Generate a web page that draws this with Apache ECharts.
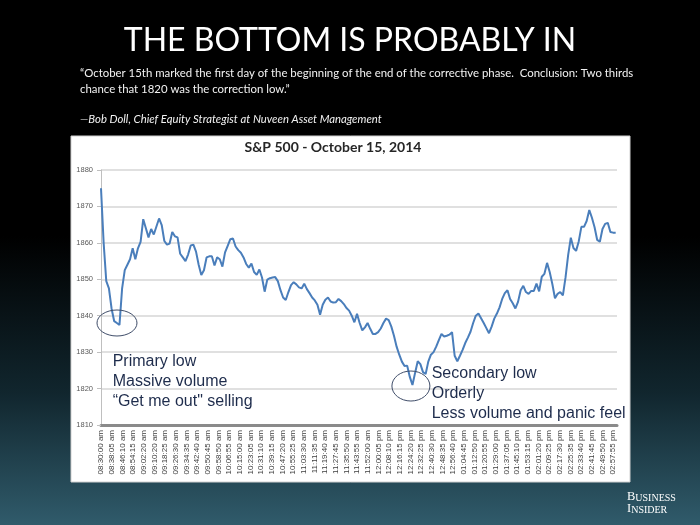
<!DOCTYPE html>
<html><head><meta charset="utf-8">
<script src="https://cdn.jsdelivr.net/npm/echarts@6/dist/echarts.min.js"></script>
<style>html,body{margin:0;padding:0;background:#000}#c{width:700px;height:525px}</style>
</head><body><div id="c"></div>
<script>
// ---- data (seconds after 08:30:00 am, S&P 500 level) ----
const stepSeconds = 120;          // one reading every 2 minutes
const tickIntervalSeconds = 485;  // axis label spacing
const tickLabels = [
  '08:30:00 am','08:38:05 am','08:46:10 am','08:54:15 am','09:02:20 am','09:10:20 am','09:18:25 am',
  '09:26:30 am','09:34:35 am','09:42:40 am','09:50:45 am','09:58:50 am','10:06:55 am','10:15:00 am',
  '10:23:05 am','10:31:10 am','10:39:15 am','10:47:20 am','10:55:25 am','11:03:30 am','11:11:35 am',
  '11:19:40 am','11:27:45 am','11:35:50 am','11:43:55 am','11:52:00 am','12:00:05 pm','12:08:10 pm',
  '12:16:15 pm','12:24:20 pm','12:32:25 pm','12:40:30 pm','12:48:35 pm','12:56:40 pm','01:04:45 pm',
  '01:12:50 pm','01:20:55 pm','01:29:00 pm','01:37:05 pm','01:45:10 pm','01:53:15 pm','02:01:20 pm',
  '02:09:25 pm','02:17:30 pm','02:25:35 pm','02:33:40 pm','02:41:45 pm','02:49:50 pm','02:57:55 pm'
];
const spx = [
  1875,1860,1849.5,1847.5,1842,1838.5,1838,1837.5,1847.5,1852.5,
  1854,1855.5,1858.5,1855.5,1858.5,1860.3,1866.5,1864,1861.5,1863.8,
  1862.3,1864.5,1866.7,1864.9,1860.5,1859.5,1859.8,1863,1861.8,1861.5,
  1857,1856,1855,1856.8,1859.3,1859.5,1857.6,1854,1851.2,1852.5,
  1856,1856.3,1856.3,1853.8,1856,1855.5,1853.5,1857.4,1859.2,1861,
  1861.2,1859,1858,1857.3,1856,1854.2,1853.2,1854.3,1852,1851.2,
  1852.7,1850.5,1846.6,1849.9,1850.3,1850.5,1850.6,1849.5,1847,1845,
  1844.3,1846.5,1848.4,1849.2,1848.6,1847.8,1847.5,1848.8,1847.3,1846.2,
  1845,1844.2,1843,1840.3,1843,1844.4,1845,1843.9,1843.6,1843.7,
  1844.6,1844,1843.2,1842.1,1841.4,1840,1838.2,1840.5,1838,1836,
  1836.8,1838,1836.4,1835,1835,1835.5,1836.5,1838,1839.2,1838.8,
  1837,1834.5,1831.5,1829.3,1827.4,1826.2,1826.3,1823.2,1821,1824.3,
  1827.5,1826.7,1824.5,1824,1827.4,1829.3,1830,1831.5,1833.3,1835,
  1834.3,1834.5,1834.8,1835.5,1829,1827.5,1829,1830.6,1832.5,1834,
  1835.6,1838,1840,1840.6,1839.3,1838,1836.6,1835.2,1837,1839.2,
  1840.6,1842.3,1844.6,1846.2,1847,1844.6,1843.4,1842,1843.8,1847,
  1848.2,1846.5,1846,1846.8,1846.8,1848.8,1846.7,1850.7,1851.5,1854.5,
  1852,1848.7,1844.8,1846,1846.5,1845.6,1850.5,1856.7,1861.4,1858.6,
  1857.8,1860.4,1864.4,1864.4,1866,1869,1866.9,1864.3,1860.8,1860.3,
  1863.8,1865.2,1865.5,1863,1862.8,1862.8
];
const yMin = 1810, yMax = 1880, yStep = 10;
const xMax = 23460;

const pageTitle = 'THE BOTTOM IS PROBABLY IN';
const quoteLines = [
  '\u201COctober 15th marked the first day of the beginning of the end of the corrective phase.  Conclusion: Two thirds',
  'chance that 1820 was the correction low.\u201D'
];
const attribution = '\u2014Bob Doll, Chief Equity Strategist at Nuveen Asset Management';
const chartTitle = 'S&P 500 - October 15, 2014';
const primaryNote = ['Primary low', 'Massive volume', '\u201CGet me out" selling'];
const secondaryNote = ['Secondary low', 'Orderly', 'Less volume and panic feel'];
const logoLines = ['BUSINESS', 'INSIDER'];
// annotation anchors in data space [seconds, level]
const primaryLow = [727, 1838];
const secondaryLow = [14090, 1820.7];
const primaryNoteAt = [532, 1827.4];
const secondaryNoteAt = [15035, 1824];

const chart = echarts.init(document.getElementById('c'));
const seriesData = spx.map((v, i) => [i * stepSeconds, v]);

chart.setOption({
  animation: false,
  backgroundColor: {type: 'linear', x: 0, y: 0, x2: 0, y2: 1, colorStops: [
    {offset: 0, color: '#000000'}, {offset: 0.45, color: '#000000'},
    {offset: 0.75, color: '#11262e'}, {offset: 1, color: '#305b6b'}]},
  title: {text: pageTitle, left: 'center', top: 20,
    textStyle: {color: '#ffffff', fontSize: 32, fontWeight: 'normal', fontFamily: 'Lato'}},
  grid: {left: 101, right: 83, top: 170, bottom: 100},
  xAxis: {
    type: 'value', min: 0, max: xMax, interval: tickIntervalSeconds,
    axisLine: {show: true, lineStyle: {color: '#8a8a8a', width: 3}},
    axisTick: {show: false},
    splitLine: {show: false},
    axisLabel: {rotate: 90, fontSize: 8, color: '#404040', margin: 5, fontFamily: 'Liberation Sans',
      showMaxLabel: false,
      formatter: v => {
        const i = Math.round(v / tickIntervalSeconds);
        return (Math.abs(v - i * tickIntervalSeconds) < 1e-6 && tickLabels[i]) ? tickLabels[i] : '';
      }}
  },
  yAxis: {
    type: 'value', min: yMin, max: yMax, interval: yStep,
    axisLine: {show: true, lineStyle: {color: '#bfbfbf', width: 1}},
    axisTick: {show: true, length: 4, lineStyle: {color: '#bfbfbf'}},
    splitLine: {lineStyle: {color: '#d6d6d6', width: 1.5}},
    axisLabel: {fontSize: 7.5, color: '#595959', margin: 8, fontFamily: 'Liberation Sans',
      formatter: v => String(v)}
  },
  series: [{
    type: 'line', data: seriesData, showSymbol: false, symbol: 'none',
    lineStyle: {color: '#4a7ebb', width: 2}, z: 3
  }]
});

function px(p) { return chart.convertToPixel({gridIndex: 0}, p); }
const pl = px(primaryLow), sl = px(secondaryLow), pn = px(primaryNoteAt), sn = px(secondaryNoteAt);
const noteStyle = {fill: '#1e2c4c', font: '16px "Liberation Sans", Arial, sans-serif', textVerticalAlign: 'middle'};
const smallCaps = s => '{a|' + s[0] + '}{b|' + s.slice(1) + '}';
const graphics = [
  {type: 'rect', z: -10, silent: true, shape: {x: 71, y: 136, width: 559, height: 346},
    style: {fill: '#ffffff', stroke: '#d0d0d0', lineWidth: 1}},
  {type: 'text', left: 80, top: 66, style: {text: quoteLines.join('\n'), fill: '#f2f2f2',
    font: '11.4px Lato', lineHeight: 15.5}},
  {type: 'text', left: 80, top: 114, style: {text: attribution, fill: '#f2f2f2', font: 'italic 11.3px Lato'}},
  {type: 'text', x: 333, y: 147, style: {text: chartTitle, fill: '#262626',
    font: 'bold 14px Lato', textAlign: 'center', textVerticalAlign: 'middle'}},
  {type: 'ellipse', z: 5, shape: {cx: pl[0], cy: pl[1], rx: 20, ry: 13},
    style: {fill: 'none', stroke: '#3f4d69', lineWidth: 1}},
  {type: 'ellipse', z: 5, shape: {cx: sl[0], cy: sl[1], rx: 19, ry: 15},
    style: {fill: 'none', stroke: '#3f4d69', lineWidth: 1}},
  {type: 'text', left: 627, top: 490, style: {text: logoLines.map(smallCaps).join('\n'),
    rich: {
      a: {fill: '#ffffff', fontFamily: 'Liberation Serif', fontSize: 12.5, lineHeight: 12, verticalAlign: 'bottom'},
      b: {fill: '#ffffff', fontFamily: 'Liberation Serif', fontSize: 10, lineHeight: 12, verticalAlign: 'bottom'}
    }}}
];
primaryNote.forEach((t, i) => graphics.push({type: 'text', z: 6, x: pn[0], y: pn[1] + i * 20,
  style: Object.assign({text: t}, noteStyle)}));
secondaryNote.forEach((t, i) => graphics.push({type: 'text', z: 6, x: sn[0], y: sn[1] + i * 20,
  style: Object.assign({text: t}, noteStyle)}));
chart.setOption({graphic: graphics});
</script>
</body></html>
